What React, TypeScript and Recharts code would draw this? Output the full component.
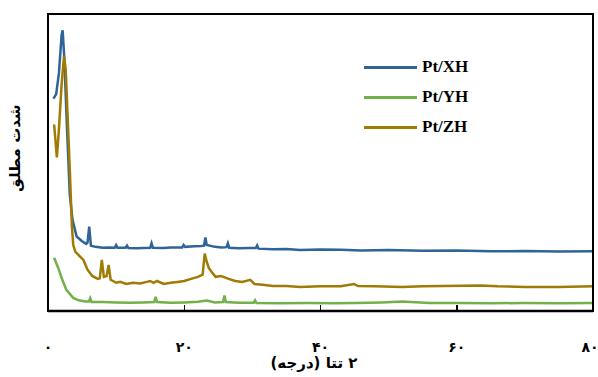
import { LineChart, Line, XAxis, YAxis } from "recharts";

// 2θ (deg) and intensity (arbitrary units, 0–100)
const xhAngle = [0.8, 1.2, 1.6, 2.0, 2.15, 2.4, 2.8, 3.2, 3.6, 4.2, 5.0, 5.6, 5.8, 6.05, 6.3, 7, 8, 9, 9.8, 10, 10.2, 11.4, 11.6, 11.8, 13, 14, 15.0, 15.2, 15.4, 17, 18, 19.7, 19.9, 20.1, 21.5, 22.5, 22.9, 23.1, 23.3, 24.5, 25.5, 26.2, 26.4, 26.6, 28, 29.5, 30.5, 30.7, 30.9, 33, 35, 37, 40, 43, 46, 50, 55, 60, 65, 70, 75, 80];
const xhValue = [71.5, 73, 80, 93, 94.5, 84.8, 61, 39.2, 30.7, 25.1, 23.5, 22.6, 23.0, 28.4, 22.0, 21.6, 21.3, 21.4, 21.3, 22.2, 21.3, 21.3, 22.0, 21.2, 21.1, 21.2, 21.3, 22.8, 21.3, 21.2, 21.4, 21.4, 22.2, 21.6, 21.8, 21.9, 22.0, 24.8, 22.2, 21.6, 21.4, 21.5, 22.8, 21.3, 21.1, 21.2, 21.2, 22.1, 21.0, 20.8, 20.9, 20.5, 20.7, 20.6, 20.4, 20.5, 20.3, 20.4, 20.1, 20.2, 20.0, 20.1];

const yhAngle = [0.9, 1.5, 2.1, 2.7, 3.7, 4.5, 5.5, 6.0, 6.2, 6.4, 8, 10, 12, 14, 15.6, 15.8, 16.0, 18, 20, 22, 23.3, 24.5, 25.7, 25.9, 26.1, 28, 30.2, 30.4, 30.6, 34, 38, 42, 45, 49, 52, 56, 60, 65, 70, 75, 80];
const yhValue = [17.9, 14.5, 10.5, 7.1, 4.4, 3.6, 3.2, 3.2, 4.3, 3.0, 3.0, 2.9, 2.8, 2.9, 3.0, 4.8, 3.0, 2.8, 2.9, 3.1, 3.5, 2.9, 3.0, 5.2, 3.0, 2.8, 2.8, 3.6, 2.7, 2.6, 2.7, 2.6, 2.7, 2.9, 3.2, 2.7, 2.7, 2.6, 2.7, 2.6, 2.7];

const zhAngle = [0.9, 1.3, 1.6, 2.0, 2.35, 2.6, 2.9, 3.2, 3.5, 3.7, 4.0, 4.6, 5.2, 5.8, 6.5, 7.3, 7.6, 7.9, 8.2, 8.6, 8.9, 9.2, 10, 10.6, 11.5, 12.5, 13.5, 14.5, 15, 15.5, 16, 17, 18, 19, 20, 21, 22, 22.7, 23.0, 23.3, 23.6, 24, 24.6, 25.4, 26.5, 27.5, 28.5, 29.7, 30.3, 31.5, 33, 35, 37, 40, 43, 44.9, 45.5, 48, 52, 55, 58, 63.5, 66, 70, 75, 80];
const zhValue = [62.8, 51.7, 61, 76.4, 85.8, 81.4, 64.5, 47.6, 29, 22.3, 20, 18.6, 17.2, 13.9, 11.8, 10.8, 11.0, 17.2, 11.5, 11.8, 15.5, 10.5, 9.5, 9.8, 9.1, 9.5, 9.3, 9.8, 10.1, 9.5, 10.1, 9.1, 9.5, 9.8, 10.1, 10.8, 11.5, 12.2, 19.3, 16.6, 14.5, 13.2, 11.5, 11.8, 10.8, 10.1, 9.8, 10.5, 9.1, 8.8, 8.4, 8.4, 8.1, 8.3, 8.3, 9.1, 8.4, 8.3, 8.1, 8.3, 8.4, 8.6, 8.3, 8.1, 8.1, 8.3];

const xTicks = [0, 20, 40, 60, 80];

const toPersian = (n: number) =>
  String(n).replace(/\d/g, (d) => "۰۱۲۳۴۵۶۷۸۹"[Number(d)]);

const series = [
  { key: "xh", name: "Pt/XH", color: "#2e6497", angle: xhAngle, value: xhValue },
  { key: "yh", name: "Pt/YH", color: "#72b04a", angle: yhAngle, value: yhValue },
  { key: "zh", name: "Pt/ZH", color: "#a07a04", angle: zhAngle, value: zhValue },
];

// one table keyed by 2θ, each series fills its own column
const rows = new Map<number, Record<string, number>>();
series.forEach((s) =>
  s.angle.forEach((a, i) => {
    const row = rows.get(a) ?? { x: a };
    row[s.key] = s.value[i];
    rows.set(a, row);
  })
);
const data = [...rows.values()].sort((a, b) => a.x - b.x);

const W = 598;
const H = 377;
const margin = { top: 14, right: 5, left: 47, bottom: 26 };
const xAxisHeight = 40;
const yAxisWidth = 1;
// plot box, same numbers recharts uses for the offsets
const plot = {
  x: margin.left + yAxisWidth,
  y: margin.top,
  w: W - margin.left - margin.right - yAxisWidth,
  h: H - margin.top - margin.bottom - xAxisHeight,
};
const xMax = 80;
const border = 2.5;

const persianFont = "'DejaVu Sans', sans-serif";

export default function App() {
  return (
    <div style={{ position: "fixed", left: 0, top: 0, width: W, height: H, background: "#fff" }}>
      <LineChart data={data} width={W} height={H} margin={margin}>
        <XAxis
          type="number"
          dataKey="x"
          domain={[0, xMax]}
          ticks={xTicks}
          tickFormatter={toPersian}
          axisLine={{ stroke: "#000", strokeWidth: 2.5 }}
          tickLine={false}
          tickMargin={25}
          height={xAxisHeight}
          tick={{ fill: "#000", fontSize: 14, fontWeight: 700, fontFamily: persianFont }}
        />
        <YAxis type="number" domain={[0, 100]} width={yAxisWidth} tick={false} tickLine={false} axisLine={false} />
        {series.map((s) => (
          <Line
            key={s.key}
            dataKey={s.key}
            name={s.name}
            type="linear"
            stroke={s.color}
            strokeWidth={2.5}
            dot={false}
            connectNulls
            isAnimationActive={false}
          />
        ))}
      </LineChart>

      {/* plot frame */}
      <div
        style={{
          position: "absolute",
          left: plot.x - border / 2,
          top: plot.y - border / 2,
          width: plot.w + border,
          height: plot.h + border,
          boxSizing: "border-box",
          border: `${border}px solid #000`,
          pointerEvents: "none",
        }}
      />
      {/* inward x ticks */}
      {xTicks.slice(1, -1).map((t) => (
        <div
          key={t}
          style={{
            position: "absolute",
            left: plot.x + (t / xMax) * plot.w - 0.75,
            top: plot.y + plot.h - 6,
            width: 1.5,
            height: 6,
            background: "#000",
          }}
        />
      ))}

      {/* legend */}
      <div style={{ position: "absolute", left: 364, top: 52 }}>
        {series.map((s) => (
          <div key={s.key} style={{ display: "flex", alignItems: "center", height: 30 }}>
            <div style={{ width: 53, height: 3, background: s.color, marginRight: 5 }} />
            <span style={{ fontFamily: "'Liberation Serif', serif", fontWeight: 700, fontSize: 17, color: "#000" }}>
              {s.name}
            </span>
          </div>
        ))}
      </div>

      {/* axis titles */}
      <div
        dir="rtl"
        style={{
          position: "absolute",
          left: 264,
          width: 100,
          top: 354,
          textAlign: "center",
          whiteSpace: "nowrap",
          fontFamily: persianFont,
          fontWeight: 700,
          fontSize: 15,
          color: "#000",
        }}
      >
        ۲ تتا (درجه)
      </div>
      <div
        dir="rtl"
        style={{
          position: "absolute",
          left: 15,
          top: 148,
          transform: "translate(-50%, -50%) rotate(-90deg)",
          whiteSpace: "nowrap",
          fontFamily: persianFont,
          fontWeight: 700,
          fontSize: 15,
          color: "#000",
        }}
      >
        شدت مطلق
      </div>
    </div>
  );
}
